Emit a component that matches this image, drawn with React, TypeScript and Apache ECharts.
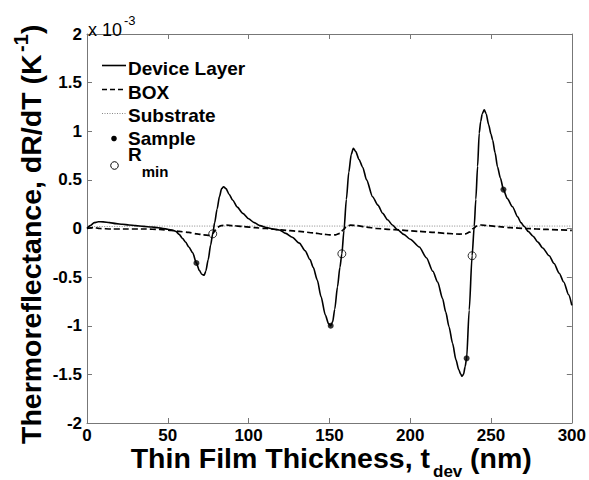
import React, { useEffect, useRef } from "react";
import * as echarts from "echarts";

// ---- data (thickness in nm, dR/dT in units of 1e-3 K^-1) ----
const xTicks = [0, 50, 100, 150, 200, 250, 300];
const yTicks = [-2, -1.5, -1, -0.5, 0, 0.5, 1, 1.5, 2];

const deviceLayer: [number, number][] = [
  [0, 0], [2, 0.03], [4.5, 0.06], [7, 0.07], [10, 0.068], [14, 0.06], [18, 0.05],
  [22, 0.043], [26, 0.036], [30, 0.03], [35, 0.022], [40, 0.015], [44, 0.008],
  [47, 0.0], [50, -0.008], [53, -0.018], [55, -0.03], [57, -0.06], [59, -0.1],
  [61, -0.14], [63, -0.19], [65.4, -0.25], [67.7, -0.355], [69.5, -0.43], [71, -0.47],
  [72.5, -0.48], [73.5, -0.44], [75, -0.32], [76.5, -0.17], [77.8, -0.055], [79, 0.06],
  [80.5, 0.2], [82, 0.33], [83.3, 0.41], [84.5, 0.43], [86, 0.41], [88, 0.35],
  [90.2, 0.29], [93, 0.22], [96.4, 0.156], [100, 0.1], [103.5, 0.06], [107, 0.03],
  [111, 0.01], [115, -0.005], [119, -0.015], [123, -0.05], [127, -0.09], [131.4, -0.15],
  [135, -0.23], [138, -0.32], [140, -0.4], [142.5, -0.53], [144.8, -0.7], [147.5, -0.89],
  [149.5, -0.98], [150.8, -1.0], [152, -0.96], [153.3, -0.83], [155, -0.6], [156.5, -0.4],
  [157.7, -0.26], [159, -0.02], [160.5, 0.3], [162, 0.58], [163.5, 0.76], [164.8, 0.825],
  [166.3, 0.79], [168.3, 0.71], [170.6, 0.63], [173, 0.5], [176.7, 0.327], [180, 0.24],
  [183, 0.156], [186, 0.09], [189, 0.036], [192, -0.01], [196, -0.06], [200, -0.11],
  [205.6, -0.19], [210, -0.3], [214, -0.44], [217, -0.55], [220, -0.72], [222, -0.86],
  [224, -1.01], [226.2, -1.18], [228.3, -1.35], [230, -1.45], [231.3, -1.5], [232, -1.52],
  [233, -1.5], [234, -1.42], [234.9, -1.335], [236.5, -0.84], [238.3, -0.28], [239.6, 0.02],
  [240.6, 0.3], [241.7, 0.64], [242.7, 0.98], [243.6, 1.1], [244.6, 1.18], [245.8, 1.22],
  [247, 1.18], [248.5, 1.07], [250, 0.97], [251, 0.91], [252.5, 0.78], [254, 0.635],
  [255.8, 0.52], [257.7, 0.4], [260, 0.31], [263.3, 0.224], [266.5, 0.12], [268.5, 0.06],
  [270.6, 0.02], [273, -0.03], [276, -0.08], [279, -0.14], [282, -0.2], [286, -0.28],
  [289, -0.36], [292.2, -0.46], [295, -0.55], [298, -0.68], [300, -0.79],
];

const boxLayer: [number, number][] = [
  [0, 0], [4, 0.01], [8, 0.0], [15, -0.005], [25, -0.005], [36, -0.005], [45, -0.01],
  [52, -0.02], [57, -0.03], [63, -0.04], [68, -0.055], [72, -0.065], [75.8, -0.07],
  [78, -0.05], [79.5, -0.015], [81, 0.015], [83, 0.03], [86, 0.036], [90, 0.03],
  [97, 0.02], [104, 0.008], [110.8, 0.0], [120, -0.015], [131.4, -0.03], [140, -0.045],
  [146, -0.058], [150, -0.065], [154, -0.065], [156.5, -0.05], [158.5, -0.015],
  [160.5, 0.02], [163, 0.034], [167, 0.03], [173, 0.015], [179, 0.0], [190, -0.012],
  [205.6, -0.03], [215, -0.04], [222, -0.05], [230.4, -0.058], [234, -0.055],
  [237, -0.035], [239, 0.0], [241, 0.025], [244, 0.036], [248, 0.03], [255, 0.02],
  [262, 0.008], [271.6, 0.0], [285, -0.01], [300, -0.02],
];

const substrate: [number, number][] = [
  [0, 0], [4, 0.02], [50, 0.025], [100, 0.025], [150, 0.025], [200, 0.025], [250, 0.025], [300, 0.025],
];

const samplePoints: [number, number][] = [
  [67.7, -0.355], [150.8, -1.0], [234.9, -1.335], [257.7, 0.4],
];

const rminPoints: [number, number][] = [
  [77.8, -0.055], [157.7, -0.26], [238.3, -0.28],
];

const seriesNames = ["Device Layer", "BOX", "Substrate", "Sample", "Rmin"];

const FONT = "'Liberation Sans', Arial, Helvetica, sans-serif";
const AXIS_COLOR = "#777";

function txt(text: string, x: number, y: number, size: number, opts: any = {}) {
  return {
    type: "text",
    x,
    y,
    rotation: opts.rotation || 0,
    silent: true,
    z: 100,
    style: {
      text,
      fill: "#000",
      font: `${opts.weight || "bold"} ${size}px ${FONT}`,
      align: opts.align || "left",
      textAlign: opts.align || "left",
      verticalAlign: "middle",
      textVerticalAlign: "middle",
    },
  };
}

export default function App() {
  const ref = useRef<HTMLDivElement>(null);

  useEffect(() => {
    if (!ref.current) return;
    const chart = echarts.init(ref.current, null, { renderer: "svg" });

    const axisBase = {
      type: "value" as const,
      axisLine: { show: true, onZero: false, lineStyle: { color: AXIS_COLOR, width: 1 } },
      axisTick: { show: true, inside: true, length: 5, lineStyle: { color: AXIS_COLOR } },
      splitLine: { show: false },
    };

    const option: any = {
      animation: false,
      backgroundColor: "#fff",
      grid: { left: 87, right: 16, top: 34, bottom: 57, containLabel: false },
      xAxis: [
        {
          ...axisBase,
          position: "bottom",
          min: xTicks[0],
          max: xTicks[xTicks.length - 1],
          interval: xTicks[1] - xTicks[0],
          axisLabel: {
            show: true,
            margin: 4,
            color: "#000",
            fontFamily: FONT,
            fontWeight: "bold",
            fontSize: 17,
          },
        },
        {
          ...axisBase,
          position: "top",
          min: xTicks[0],
          max: xTicks[xTicks.length - 1],
          interval: xTicks[1] - xTicks[0],
          axisLabel: { show: false },
        },
      ],
      yAxis: [
        {
          ...axisBase,
          position: "left",
          min: yTicks[0],
          max: yTicks[yTicks.length - 1],
          interval: yTicks[1] - yTicks[0],
          axisLabel: {
            show: true,
            margin: 5,
            color: "#000",
            fontFamily: FONT,
            fontWeight: "bold",
            fontSize: 17,
          },
        },
        {
          ...axisBase,
          position: "right",
          min: yTicks[0],
          max: yTicks[yTicks.length - 1],
          interval: yTicks[1] - yTicks[0],
          axisLabel: { show: false },
        },
      ],
      series: [
        {
          name: seriesNames[0],
          type: "line",
          data: deviceLayer,
          symbol: "none",
          smooth: 0.25,
          smoothMonotone: "x",
          lineStyle: { color: "#000", width: 1.6 },
          z: 5,
        },
        {
          name: seriesNames[1],
          type: "line",
          data: boxLayer,
          symbol: "none",
          smooth: 0.25,
          smoothMonotone: "x",
          lineStyle: { color: "#000", width: 1.7, type: [6, 3] },
          z: 4,
        },
        {
          name: seriesNames[2],
          type: "line",
          data: substrate,
          symbol: "none",
          lineStyle: { color: "#888", width: 1, type: [1, 1.5] },
          z: 3,
        },
        {
          name: seriesNames[3],
          type: "scatter",
          data: samplePoints,
          symbol: "circle",
          symbolSize: 6,
          itemStyle: { color: "#000" },
          z: 10,
        },
        {
          name: seriesNames[4],
          type: "scatter",
          data: rminPoints,
          symbol: "circle",
          symbolSize: 8,
          itemStyle: { color: "rgba(255,255,255,0)", borderColor: "#000", borderWidth: 1 },
          z: 10,
        },
      ],
      graphic: [
        // exponent label
        txt("x 10", 88, 30, 18, { weight: "normal" }),
        txt("-3", 124, 20, 13, { weight: "normal" }),
        // legend
        { type: "line", silent: true, z: 100, shape: { x1: 102, y1: 65.5, x2: 126, y2: 65.5 }, style: { stroke: "#000", lineWidth: 1.6 } },
        txt(seriesNames[0], 128, 68, 19),
        { type: "line", silent: true, z: 100, shape: { x1: 102, y1: 89.5, x2: 126, y2: 89.5 }, style: { stroke: "#000", lineWidth: 1.6, lineDash: [5, 3] } },
        txt(seriesNames[1], 128, 92, 19),
        { type: "line", silent: true, z: 100, shape: { x1: 102, y1: 113.5, x2: 126, y2: 113.5 }, style: { stroke: "#888", lineWidth: 1, lineDash: [1, 1.5] } },
        txt(seriesNames[2], 128, 115, 19),
        { type: "circle", silent: true, z: 100, shape: { cx: 114, cy: 138.5, r: 2.8 }, style: { fill: "#000" } },
        txt(seriesNames[3], 128, 138.5, 19),
        { type: "circle", silent: true, z: 100, shape: { cx: 114.5, cy: 165.5, r: 3.8 }, style: { fill: "none", stroke: "#000", lineWidth: 1 } },
        txt("R", 128, 154, 19),
        txt("min", 141.7, 171, 15),
        // x axis title
        txt("Thin Film Thickness, t", 430, 458, 28.5, { align: "right" }),
        txt("dev", 433, 471, 17),
        txt("(nm)", 470, 458, 28.5),
        // y axis title (rotated)
        txt("Thermoreflectance, dR/dT (K", 31, 444, 28.5, { rotation: Math.PI / 2 }),
        txt("-1", 21, 52, 20, { rotation: Math.PI / 2 }),
        txt(")", 31, 34, 28.5, { rotation: Math.PI / 2 }),
      ],
    };

    chart.setOption(option);
    return () => chart.dispose();
  }, []);

  return (
    <div
      ref={ref}
      style={{ position: "absolute", left: 0, top: 0, width: 589, height: 480, background: "#fff" }}
    />
  );
}
